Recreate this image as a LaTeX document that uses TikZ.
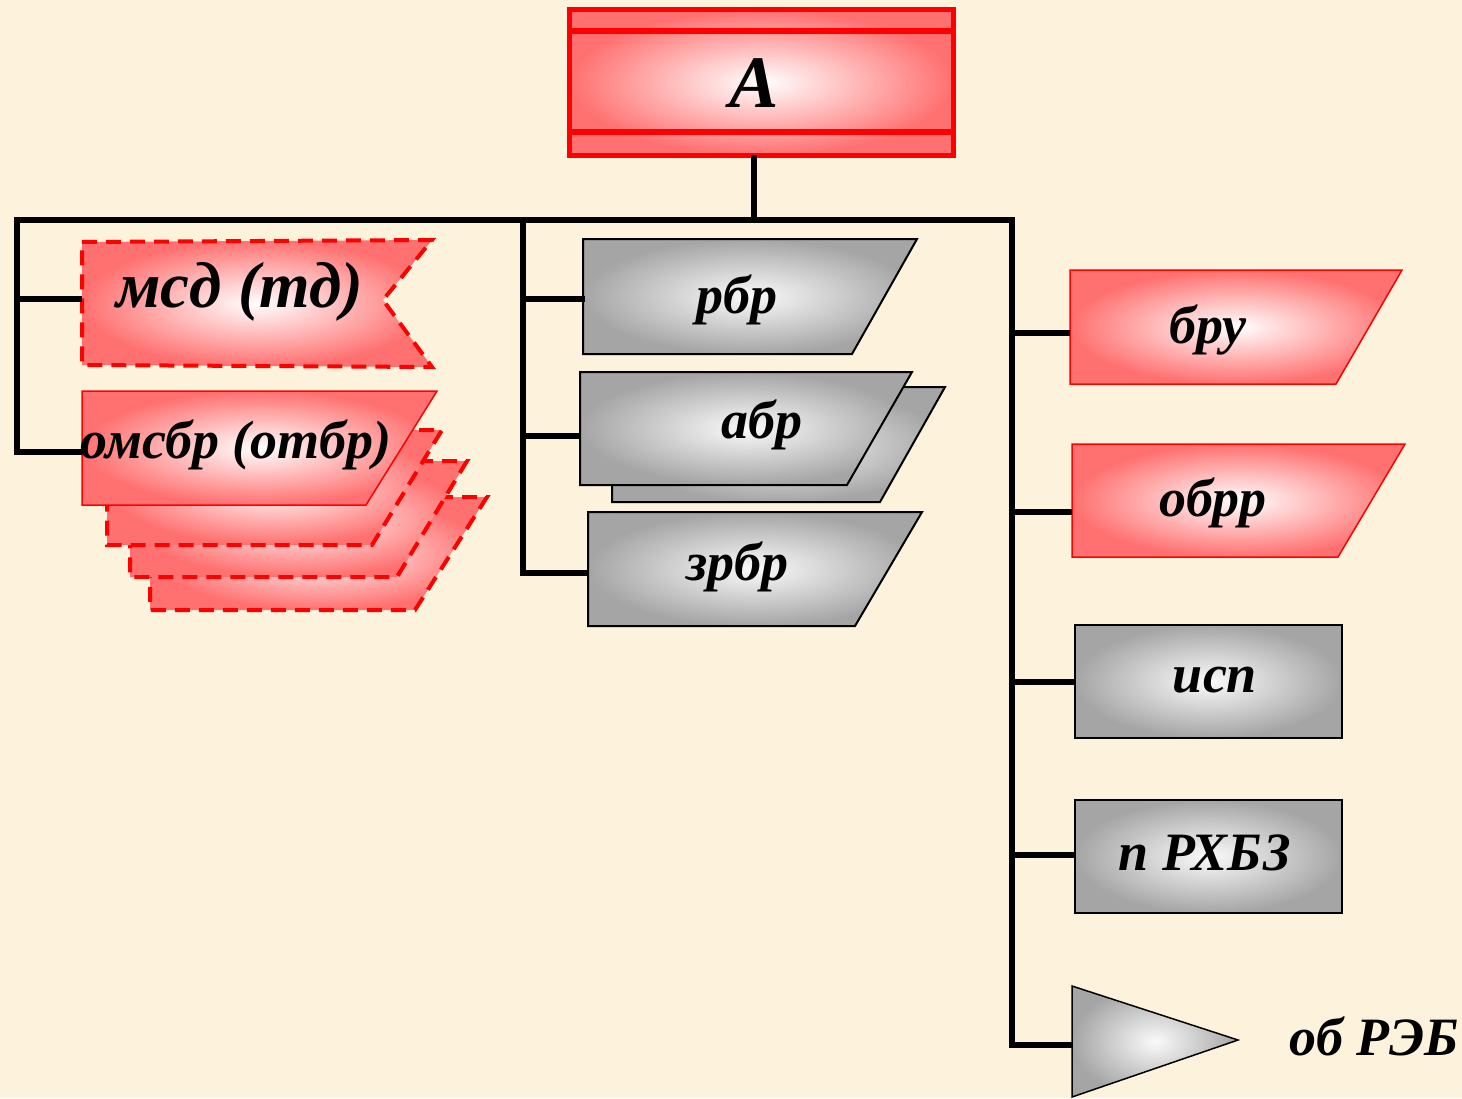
\documentclass[tikz,border=0pt]{standalone}
\usepackage{fontspec}
\setmainfont{Liberation Serif}
\usetikzlibrary{positioning}
\definecolor{bgCream}{RGB}{253,243,220}
\definecolor{orgRed}{RGB}{255,0,0}
\definecolor{orgPink}{RGB}{255,112,112}
\definecolor{orgGray}{RGB}{165,165,165}
\definecolor{orgLight}{RGB}{250,250,250}

\tikzset{
  bus/.style={line width=6pt, black, line join=miter},
  redunit/.style={draw=orgRed, line width=1.5pt, inner color=white, outer color=orgPink},
  reddash/.style={draw=orgRed, line width=4pt, dash pattern=on 15pt off 9pt, inner color=white, outer color=orgPink},
  grayunit/.style={draw=black, line width=2pt, inner color=orgLight, outer color=orgGray},
  lbl/.style={inner sep=0pt, font=\fontsize{54}{58}\selectfont\bfseries\itshape},
  biglbl/.style={inner sep=0pt, font=\fontsize{65}{69}\selectfont\bfseries\itshape},
}

\begin{document}
\begin{tikzpicture}[x=1pt, y=-1pt]
  \fill[bgCream] (0,0) rectangle (1462,1098);
  \useasboundingbox (0,0) rectangle (1462,1098);

  % Army HQ
  \node[minimum width=383pt, minimum height=145pt, inner sep=0pt] (army) at (761.5,82.5) {};
  \shade[inner color=white, outer color=orgPink] (army.north west) rectangle (army.south east);
  \draw[orgRed, line width=5pt] (army.north west) rectangle (army.south east);
  \draw[orgRed, line width=6pt] ([yshift=-21pt]army.north west) -- ([yshift=-21pt]army.north east)
    ([yshift=23pt]army.south west) -- ([yshift=23pt]army.south east);
  \node[inner sep=0pt, font=\fontsize{74}{78}\selectfont\bfseries\itshape] (armylbl) at (754,83) {A};

  % Left group
  \shade[reddash] (150,497) -- (487,497) -- (415,610) -- (150,610) -- cycle;
  \shade[reddash] (130,461) -- (467,461) -- (397,577) -- (130,577) -- cycle;
  \shade[reddash] (107,430) -- (442,430) -- (372,545) -- (107,545) -- cycle;
  \shade[redunit] (82,391) -- (437,391) -- (366,505) -- (82,505) -- cycle;
  \node[biglbl, font=\fontsize{54}{58}\selectfont\bfseries\itshape] (omsbr) at (236,445) {омсбр (отбр)};
  \shade[reddash] (82,242) -- (432,240) -- (383,300) -- (432,367) -- (82,365) -- cycle;
  \node[biglbl] (msd) at (240,292) {мсд (тд)};

  % Middle group
  \shade[grayunit] (583,239) -- (917,239) -- (852,354) -- (583,354) -- cycle;
  \node[lbl] (rbr) at (737,300) {рбр};
  \shade[grayunit] (612,387) -- (945,387) -- (880,502) -- (612,502) -- cycle;
  \shade[grayunit] (580,372) -- (912,372) -- (847,485) -- (580,485) -- cycle;
  \node[lbl] (abr) at (762,425) {абр};
  \shade[grayunit] (588,512) -- (922,512) -- (855,626) -- (588,626) -- cycle;
  \node[lbl] (zrbr) at (737,567) {зрбр};

  % Right group
  \shade[redunit] (1070,270) -- (1402,270) -- (1336,384) -- (1070,384) -- cycle;
  \node[lbl] (bru) at (1208,330) {бру};
  \shade[redunit] (1072,444) -- (1405,444) -- (1338,557) -- (1072,557) -- cycle;
  \node[lbl] (obrr) at (1213,503) {обрр};
  \shade[grayunit] (1075,625) rectangle (1342,738);
  \node[lbl] (isp) at (1215,680) {исп};
  \shade[grayunit] (1075,800) rectangle (1342,913);
  \node[lbl] (rhbz) at (1205,853) {п РХБЗ};
  \shade[grayunit, line width=1.5pt] (1072,986) -- (1238,1040) -- (1072,1097) -- cycle;
  \node[lbl, anchor=west] (reb) at (1289,1036) {об РЭБ};

  % Bus and branches
  \coordinate (busL) at (17,220);
  \coordinate (busM) at (523,220);
  \coordinate (busA) at (754,220);
  \coordinate (busR) at (1012,220);
  \coordinate (msd-w) at (82,299);
  \coordinate (omsbr-w) at (82,452);
  \coordinate (rbr-w) at (585,299);
  \coordinate (abr-w) at (580,436);
  \coordinate (zrbr-w) at (589,573);
  \coordinate (bru-w) at (1070,333);
  \coordinate (obrr-w) at (1072,512);
  \coordinate (isp-w) at (1076,682);
  \coordinate (rhbz-w) at (1076,855);
  \coordinate (reb-w) at (1072,1045);

  \draw[bus] (army.south -| busA) -- (busA);
  \draw[bus] (omsbr-w) -| (busL) -- (busR) |- (reb-w);
  \draw[bus] (msd-w -| busL) -- (msd-w);
  \draw[bus] (busM) |- (zrbr-w);
  \draw[bus] (rbr-w -| busM) -- (rbr-w);
  \draw[bus] (abr-w -| busM) -- (abr-w);
  \draw[bus] (bru-w -| busR) -- (bru-w);
  \draw[bus] (obrr-w -| busR) -- (obrr-w);
  \draw[bus] (isp-w -| busR) -- (isp-w);
  \draw[bus] (rhbz-w -| busR) -- (rhbz-w);
\end{tikzpicture}
\end{document}
